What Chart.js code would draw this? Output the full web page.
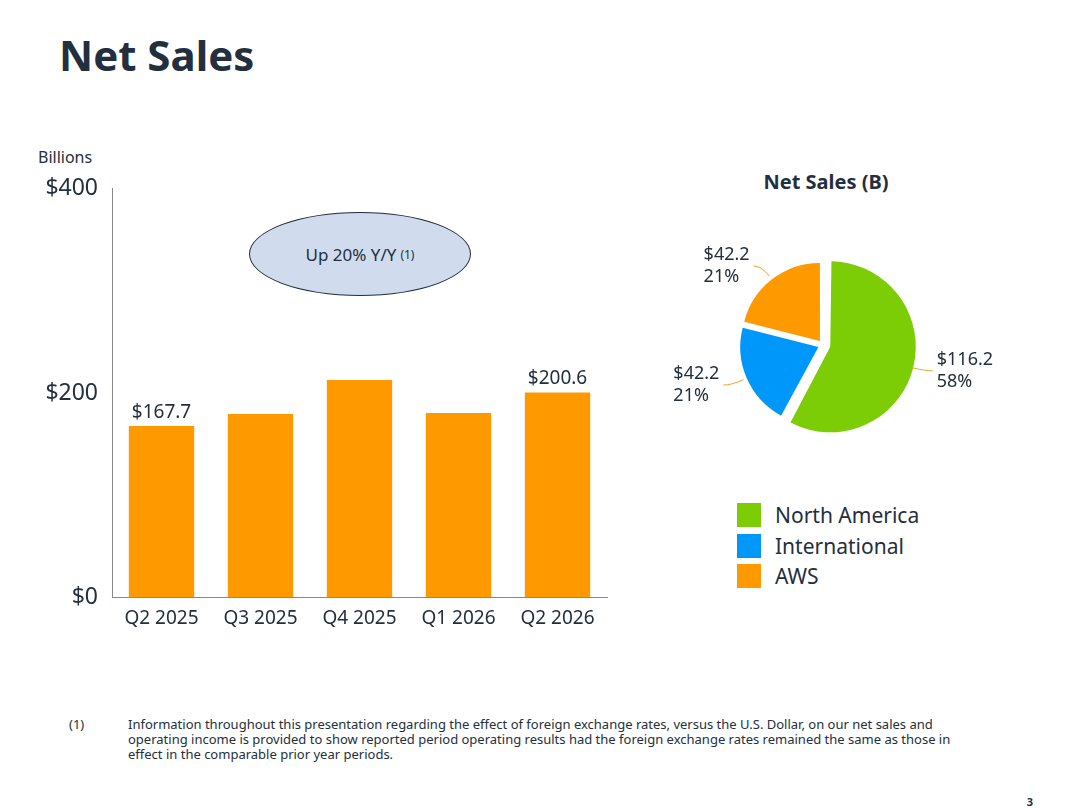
<!DOCTYPE html>
<html>
<head>
<meta charset="utf-8">
<script src="https://cdn.jsdelivr.net/npm/chart.js@4/dist/chart.umd.min.js"></script>
<style>
  body { margin: 0; width: 1067px; height: 808px; background: #fff; font-family: "Noto Sans", sans-serif; color: #232f3e; position: relative; overflow: hidden; }
  .title { position: absolute; left: 59px; top: 26px; font-size: 42px; font-weight: bold; }
  .units { position: absolute; left: 38px; top: 146px; font-size: 16px; }
  #barWrap { position: absolute; left: 30px; top: 169px; width: 590px; height: 465px; }
  #pieWrap { position: absolute; left: 633px; top: 222px; width: 380px; height: 246px; }
  .ellipse { position: absolute; left: 249px; top: 212px; width: 220px; height: 82px; border: 1.5px solid #232f3e; border-radius: 50%; background: #d0dcee; display: flex; align-items: center; justify-content: center; font-size: 17px; }
  .ellipse small { font-size: 12px; margin-left: 4px; }
  .pieTitle { position: absolute; left: 700px; top: 168px; width: 252px; text-align: center; font-size: 20px; font-weight: bold; }
  .legend { position: absolute; left: 737px; top: 500px; font-size: 21px; }
  .legend div { display: flex; align-items: center; height: 30.5px; }
  .legend span { display: inline-block; width: 24px; height: 24px; margin-right: 14px; }
  .note { position: absolute; top: 717px; font-size: 13px; line-height: 15px; }
  .page { position: absolute; right: 34px; top: 794px; font-size: 11px; font-weight: bold; }
</style>
</head>
<body>
<div class="title">Net Sales</div>
<div class="units">Billions</div>
<div id="barWrap"><canvas id="barChart"></canvas></div>
<div class="ellipse">Up 20% Y/Y<small>(1)</small></div>
<div class="pieTitle">Net Sales (B)</div>
<div id="pieWrap"><canvas id="pieChart"></canvas></div>
<div class="legend">
  <div><span style="background:#7ccc06"></span>North America</div>
  <div><span style="background:#0097fb"></span>International</div>
  <div><span style="background:#ff9900"></span>AWS</div>
</div>
<div class="note" style="left:69px">(1)</div>
<div class="note" style="left:128px;width:848px">Information throughout this presentation regarding the effect of foreign exchange rates, versus the U.S. Dollar, on our net sales and operating income is provided to show reported period operating results had the foreign exchange rates remained the same as those in effect in the comparable prior year periods.</div>
<div class="page">3</div>
<script>
// ---------------------------------------------------------------------------
// Data
// ---------------------------------------------------------------------------
const quarters = ["Q2 2025", "Q3 2025", "Q4 2025", "Q1 2026", "Q2 2026"];
const netSales = [167.7, 179.5, 212.7, 180.5, 200.6];
const barLabels = ["$167.7", "", "", "", "$200.6"];
const yTicks = [0, 200, 400];

const segments = ["North America", "International", "AWS"];
const segmentSales = [116.2, 42.2, 42.2];
const segmentPct = ["58%", "21%", "21%"];
const segmentColors = ["#7ccc06", "#0097fb", "#ff9900"];
const sliceOffsets = [30, 20, 20];

const ink = "#232f3e";

// ---------------------------------------------------------------------------
// Bar chart
// ---------------------------------------------------------------------------
const barValueLabels = {
    id: "barValueLabels",
    afterDatasetsDraw(chart) {
        const ctx = chart.ctx;
        const meta = chart.getDatasetMeta(0);
        ctx.save();
        ctx.font = "19px 'Noto Sans'";
        ctx.fillStyle = ink;
        ctx.textAlign = "center";
        ctx.textBaseline = "bottom";
        meta.data.forEach((bar, i) => {
            if (barLabels[i]) ctx.fillText(barLabels[i], bar.x, bar.y - 4);
        });
        ctx.restore();
    },
};

new Chart(document.getElementById("barChart"), {
    type: "bar",
    data: {
        labels: quarters,
        datasets: [{ data: netSales, backgroundColor: "#ff9900", borderWidth: 0, categoryPercentage: 0.66, barPercentage: 1 }],
    },
    options: {
        responsive: true,
        maintainAspectRatio: false,
        animation: false,
        layout: { padding: { top: 4, right: 13 } },
        plugins: { legend: { display: false }, tooltip: { enabled: false } },
        scales: {
            y: {
                min: 0, max: 400,
                afterBuildTicks: (axis) => { axis.ticks = yTicks.map(v => ({ value: v })); },
                afterFit: (axis) => { axis.width = 82; },
                ticks: { color: ink, font: { size: 23, family: "'Noto Sans'" }, callback: v => "$" + v, padding: 6 },
                grid: { display: false, drawTicks: true, tickLength: 8, color: "#888" },
                border: { color: "#888" },
            },
            x: {
                ticks: { color: ink, font: { size: 19, family: "'Noto Sans'" }, padding: 4 },
                grid: { display: false, tickLength: 6, color: "#888" },
                border: { color: "#888" },
            },
        },
    },
    plugins: [barValueLabels],
});

// ---------------------------------------------------------------------------
// Pie chart
// ---------------------------------------------------------------------------
const pieLabels = {
    id: "pieLabels",
    afterDatasetsDraw(chart) {
        const ctx = chart.ctx;
        const meta = chart.getDatasetMeta(0);
        ctx.save();
        ctx.font = "18px 'Noto Sans'";
        meta.data.forEach((arc, i) => {
            const mid = (arc.startAngle + arc.endAngle) / 2;
            const off = sliceOffsets[i] / 2; // arcs are shifted by half their offset
            const cos = Math.cos(mid), sin = Math.sin(mid);
            const cx = arc.x + cos * off;
            const cy = arc.y + sin * off;
            const r = arc.outerRadius;
            const ex = cx + cos * (r - 1), ey = cy + sin * (r - 1);
            const lx = cx + cos * (r + 12), ly = cy + sin * (r + 12);
            const dir = cos >= 0 ? 1 : -1;
            const tx = lx + dir * 8;
            ctx.strokeStyle = "#f0a030";
            ctx.lineWidth = 1;
            ctx.beginPath();
            ctx.moveTo(ex, ey);
            ctx.quadraticCurveTo(lx, ly, tx, ly);
            ctx.stroke();
            ctx.fillStyle = ink;
            ctx.textAlign = "left";
            ctx.textBaseline = "middle";
            const l1 = "$" + segmentSales[i].toFixed(1), l2 = segmentPct[i];
            const w = Math.max(ctx.measureText(l1).width, ctx.measureText(l2).width);
            const bx = dir > 0 ? tx + 4 : tx - 4 - w;
            ctx.fillText(l1, bx, ly - 11);
            ctx.fillText(l2, bx, ly + 11);
        });
        ctx.restore();
    },
};

new Chart(document.getElementById("pieChart"), {
    type: "pie",
    data: {
        labels: segments,
        datasets: [{ data: segmentSales, backgroundColor: segmentColors, borderWidth: 0, offset: (c) => sliceOffsets[c.dataIndex] }],
    },
    options: {
        responsive: true,
        maintainAspectRatio: false,
        animation: false,
        layout: { padding: { top: 30, bottom: 30, left: 60, right: 60 } },
        plugins: { legend: { display: false }, tooltip: { enabled: false } },
    },
    plugins: [pieLabels],
});
</script>
</body>
</html>
